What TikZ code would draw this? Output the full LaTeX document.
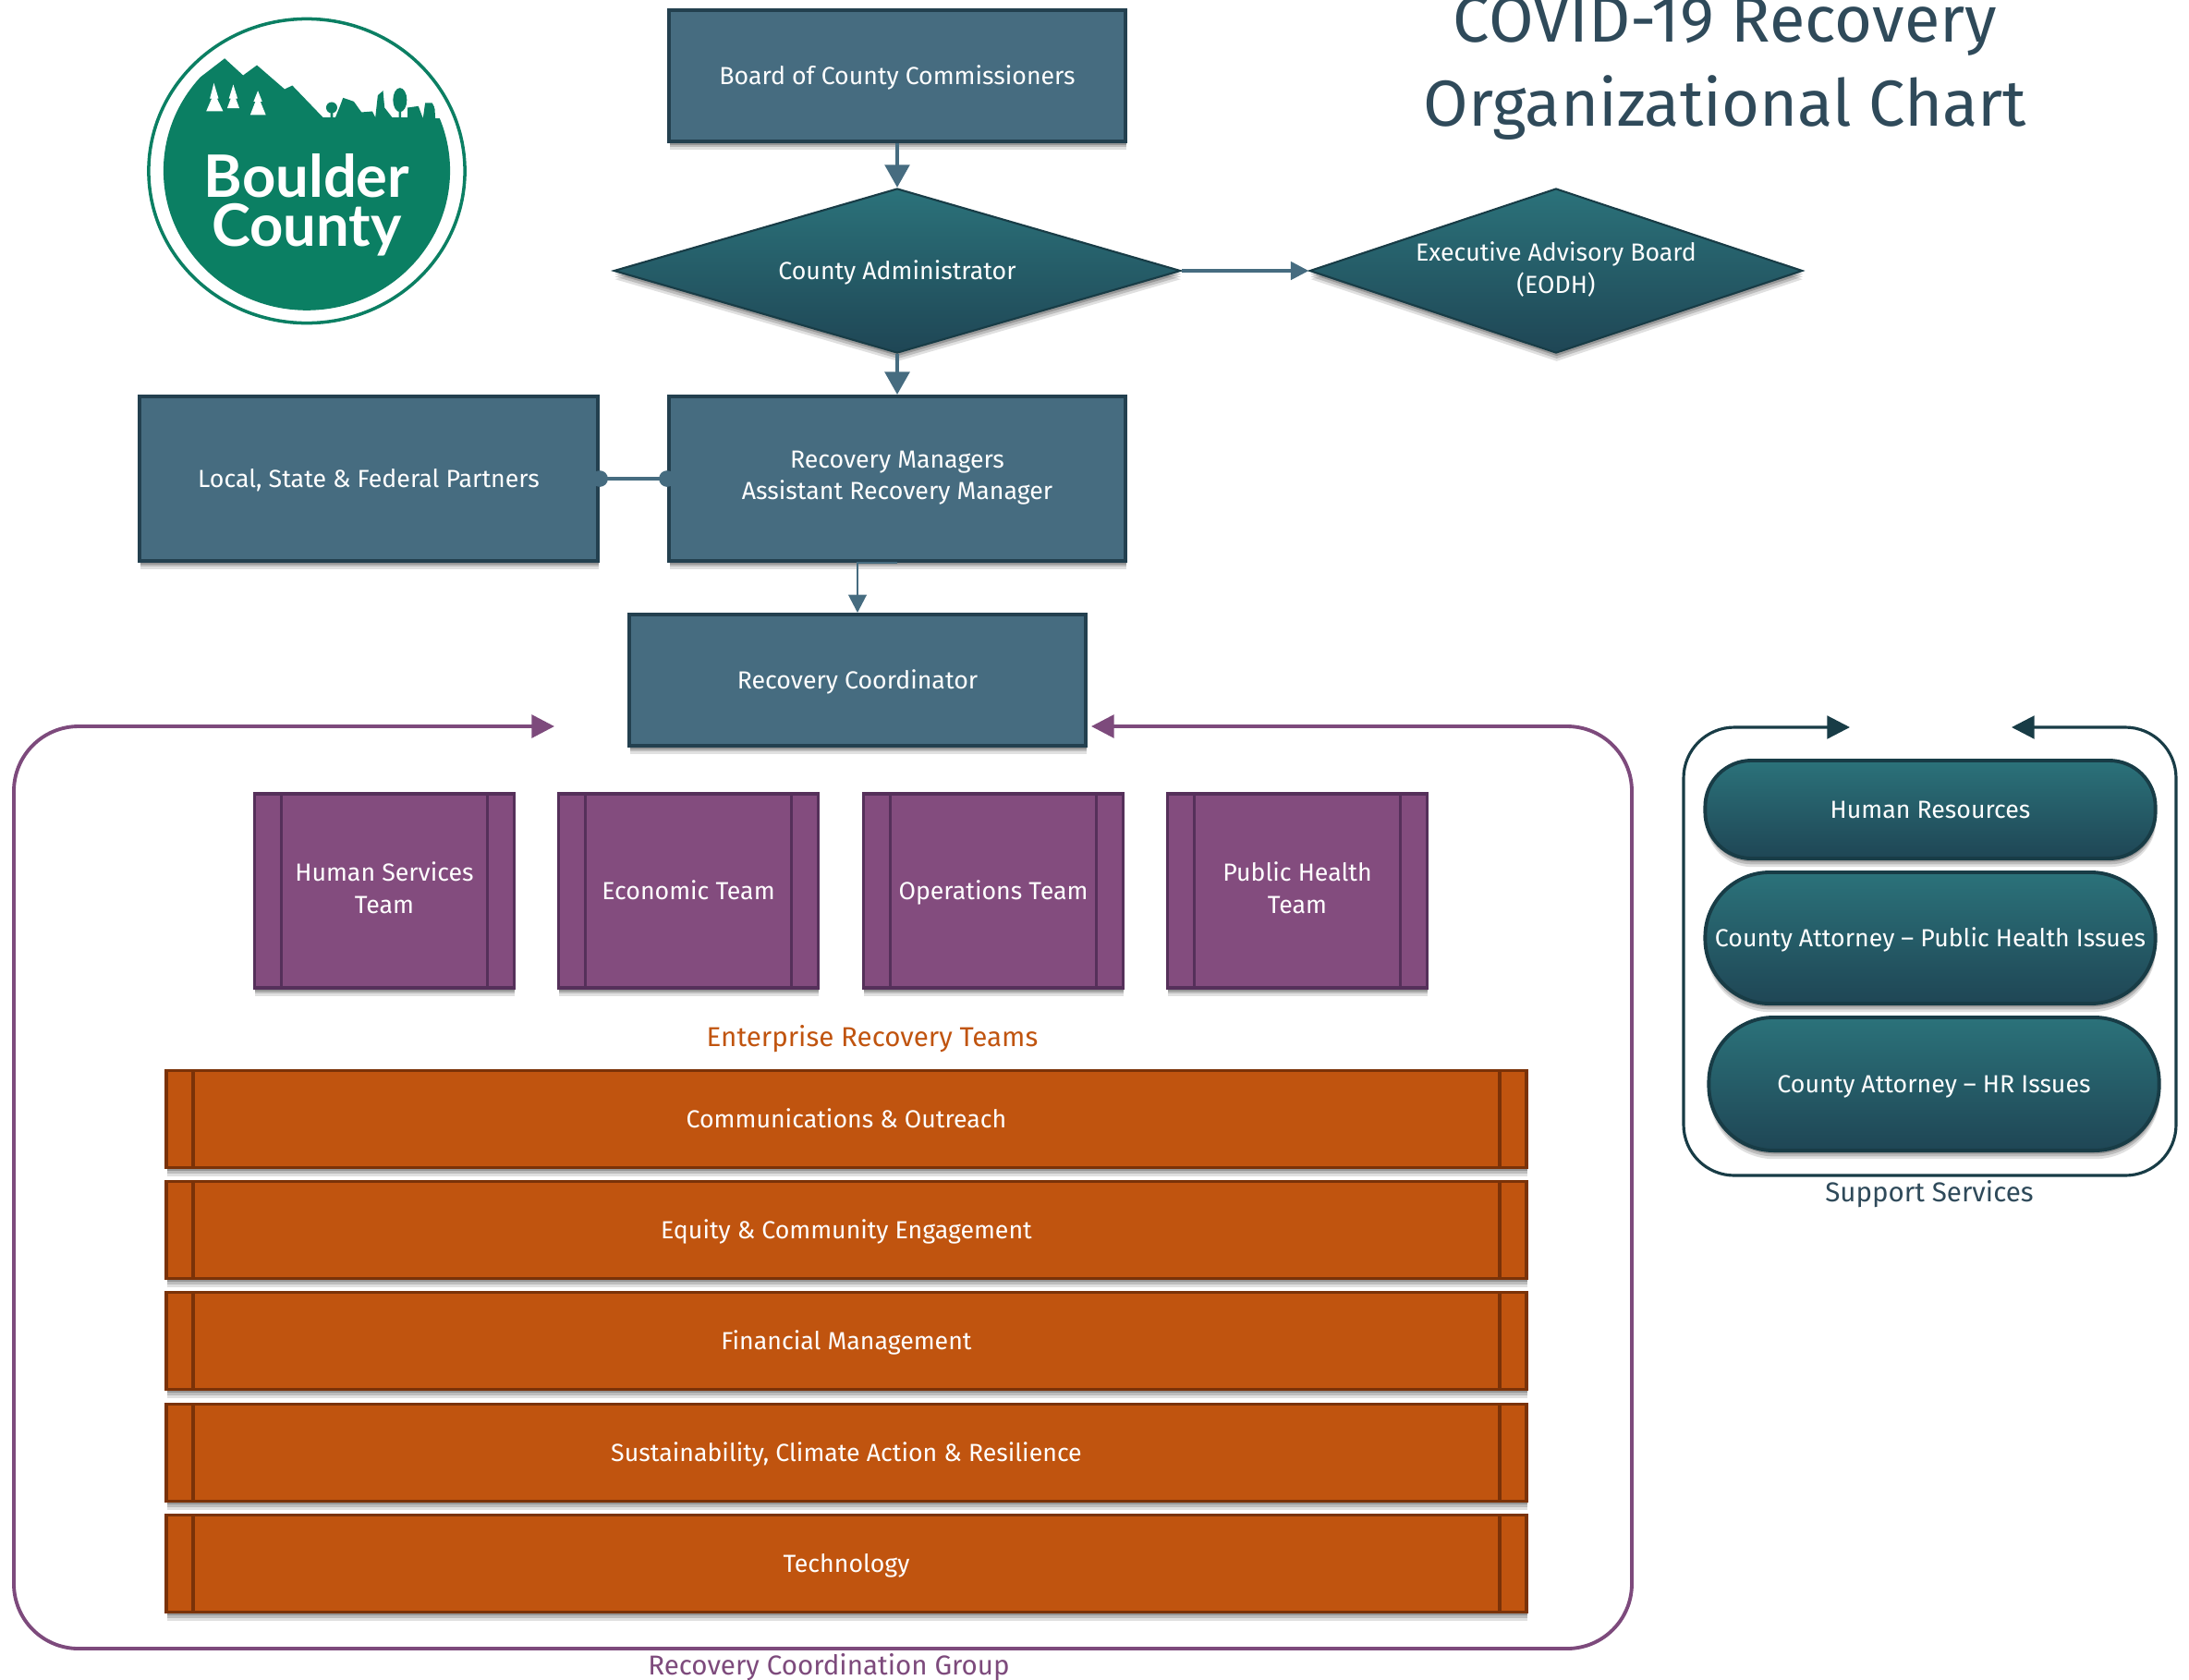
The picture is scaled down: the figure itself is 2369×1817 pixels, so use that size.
\documentclass[tikz,border=0pt]{standalone}
\usepackage{fontspec}
\setmainfont{Fira Sans}
\newfontfamily\logofont{Lato}
\usetikzlibrary{shapes.geometric,shadows,arrows.meta}
\definecolor{bluefill}{HTML}{466C80}
\definecolor{blueedge}{HTML}{23404F}
\definecolor{tealtop}{HTML}{2B727A}
\definecolor{tealbot}{HTML}{1F4655}
\definecolor{tealedge}{HTML}{183C46}
\definecolor{purfill}{HTML}{834C7E}
\definecolor{puredge}{HTML}{55305A}
\definecolor{orfill}{HTML}{C0540F}
\definecolor{oredge}{HTML}{7A3208}
\definecolor{logogreen}{HTML}{0B7F63}
\definecolor{titlecol}{HTML}{2F4A5A}
\definecolor{framepur}{HTML}{7D4A7C}
\newcommand{\lblstrut}{\rule[-2pt]{0pt}{9.5pt}}
\tikzset{
 lbl/.style={font=\fontsize{7.6pt}{9.8pt}\selectfont,text=white,align=center,inner sep=0pt,
   execute at begin node=\lblstrut,execute at end node=\lblstrut},
 shad/.style={
   drop shadow={shadow xshift=0.2pt,shadow yshift=-2.6pt,fill=black,opacity=.12},
   drop shadow={shadow xshift=0.2pt,shadow yshift=-1.8pt,fill=black,opacity=.16},
   drop shadow={shadow xshift=0.2pt,shadow yshift=-1.0pt,fill=black,opacity=.2}},
 bluebox/.style={lbl,draw=blueedge,line width=1.1pt,fill=bluefill,shad,rectangle},
 tealdia/.style={lbl,diamond,draw=tealedge,line width=.6pt,top color=tealtop,bottom color=tealbot,shad},
 teampill/.style={lbl,rectangle,rounded corners=.5cm,draw=tealedge,line width=1.1pt,top color=tealtop,bottom color=tealbot,shad,minimum width=4.87cm},
 procbox/.style={lbl,rectangle,line width=1pt,shad,
  path picture={\draw[line width=1pt,#1]
    ([xshift=.29cm]path picture bounding box.north west)--([xshift=.29cm]path picture bounding box.south west)
    ([xshift=-.29cm]path picture bounding box.north east)--([xshift=-.29cm]path picture bounding box.south east);}},
 purbox/.style={procbox=puredge,draw=puredge,fill=purfill,minimum width=2.81cm,minimum height=2.1cm},
 orbox/.style={procbox=oredge,draw=oredge,fill=orfill,minimum width=14.71cm,minimum height=1.05cm},
 bluearrow/.style={draw=bluefill,line width=1.3pt,-{Triangle[length=7pt,width=7.5pt]}},
 thinarrow/.style={draw=bluefill,line width=.8pt,-{Triangle[length=5.5pt,width=5.5pt]}},
 dotline/.style={draw=bluefill,line width=1.1pt,{Circle[length=5pt]}-{Circle[length=5pt]},shorten <=-2.5pt,shorten >=-2.5pt},
 purframe/.style={draw=framepur,line width=1.1pt,rounded corners=.7cm,{Triangle[length=7pt,width=7pt]}-{Triangle[length=7pt,width=7pt]}},
 tealframe/.style={draw=tealedge,line width=.9pt,rounded corners=.55cm,{Triangle[length=7pt,width=7pt]}-{Triangle[length=7pt,width=7pt]}},
 caption/.style={font=\fontsize{8.4pt}{10pt}\selectfont,inner sep=0pt},
 titletext/.style={font=\fontsize{20pt}{24pt}\selectfont,text=titlecol,inner sep=0pt},
 logotext/.style={font=\logofont\bfseries\fontsize{18pt}{15pt}\selectfont,text=white,inner sep=0pt,align=center},
}
\begin{document}
\begin{tikzpicture}[x=0.01cm,y=-0.01cm]
\useasboundingbox (0,0) rectangle (2369,1817);

% logo
\draw[logogreen,line width=1pt,fill=white] (332,185) ellipse [x radius=1.71cm,y radius=1.645cm];
\begin{scope}[shift={(120,0)},x=0.003333cm,y=-0.003333cm]
 \clip (637,555) ellipse [x radius=1.55cm,y radius=1.51cm];
 \fill[logogreen] (100,1100) -- (100,420) -- (240,290) -- (370,190) -- (430,245) -- (475,212) -- (565,290) -- (590,278) -- (690,382)
  -- (730,382) -- (745,345) -- (755,318) -- (790,330) -- (815,365) -- (850,362) -- (860,382)
  -- (868,310) -- (885,295) -- (890,350) -- (915,382) -- (965,382) -- (965,350) -- (1000,345) -- (1015,385)
  -- (1022,335) -- (1052,335) -- (1055,385) -- (1200,385) -- (1200,1100) -- cycle;
 \fill[logogreen] (718,350) circle [radius=.06cm] (940,325) ellipse [x radius=.075cm,y radius=.13cm];
 \fill[logogreen] (714,350) rectangle (722,385) (936,330) rectangle (944,385);
 \fill[white] (335,270)--(350,320)--(345,320)--(365,362)--(310,362)--(328,320)--(322,320)--cycle;
 \fill[white] (398,275)--(412,320)--(406,320)--(418,352)--(378,352)--(390,320)--(384,320)--cycle;
 \fill[white] (478,295)--(492,330)--(486,330)--(504,374)--(453,374)--(470,330)--(464,330)--cycle;
\end{scope}
\node[logotext] (logo) at (332,222) {Boulder\\County};

% title
\node[titletext] (title1) at (1867,28) {COVID-19 Recovery};
\node[titletext] (title2) at (1867,117) {Organizational Chart};

% top
\node[bluebox,minimum width=4.94cm,minimum height=1.42cm] (board) at (971,82) {Board of County Commissioners};
\node[tealdia,shape aspect=3.44,minimum width=6.13cm,minimum height=1.78cm] (admin) at (971,293) {County Administrator};
\node[tealdia,shape aspect=3,minimum width=5.33cm,minimum height=1.78cm] (eab) at (1684,293) {Executive Advisory Board\\(EODH)};
\node[bluebox,minimum width=4.96cm,minimum height=1.78cm] (partners) at (399,518) {Local, State \& Federal Partners};
\node[bluebox,minimum width=4.94cm,minimum height=1.78cm] (mgrs) at (971,518) {Recovery Managers\\Assistant Recovery Manager};
\node[bluebox,minimum width=4.94cm,minimum height=1.42cm] (coord) at (928,736) {Recovery Coordinator};

\draw[bluearrow] (board) -- (admin);
\draw[bluearrow] (admin) -- (mgrs);
\draw[thinarrow,line width=1pt] (admin) -- (eab);
\draw[dotline] (partners) -- (mgrs);
\draw[thinarrow] (mgrs.south) -| (coord.north);

% recovery coordination frame
\coordinate (pl) at (600,786);
\coordinate (pr) at (1181,786);
\draw[purframe] (pl) -- (15,786) -- (15,1784) -- (1766,1784) -- (1766,786) -- (pr);

\node[purbox] (t1) at (416,964) {Human Services\\Team};
\node[purbox] (t2) at (745,964) {Economic Team};
\node[purbox] (t3) at (1075,964) {Operations Team};
\node[purbox] (t4) at (1404,964) {Public Health\\Team};
\node[caption,text=orfill] (ert) at (944,1124) {Enterprise Recovery Teams};

\node[orbox] (o1) at (916,1211) {Communications \& Outreach};
\node[orbox] (o2) at (916,1331) {Equity \& Community Engagement};
\node[orbox] (o3) at (916,1451) {Financial Management};
\node[orbox] (o4) at (916,1572) {Sustainability, Climate Action \& Resilience};
\node[orbox] (o5) at (916,1692) {Technology};
\node[caption,text=framepur] (rcg) at (897,1804) {Recovery Coordination Group};

% support
\coordinate (sl) at (2002,787);
\coordinate (sr) at (2177,787);
\draw[tealframe] (sl) -- (1822,787) -- (1822,1272) -- (2355,1272) -- (2355,787) -- (sr);
\node[teampill,minimum height=1.06cm] (s1) at (2089,876) {Human Resources};
\node[teampill,minimum height=1.42cm,rounded corners=.7cm] (s2) at (2089,1015) {County Attorney -- Public Health Issues};
\node[teampill,minimum height=1.44cm,rounded corners=.7cm] (s3) at (2093,1173) {County Attorney -- HR Issues};
\node[caption,text=titlecol] (ss) at (2088,1292) {Support Services};
\end{tikzpicture}
\end{document}
